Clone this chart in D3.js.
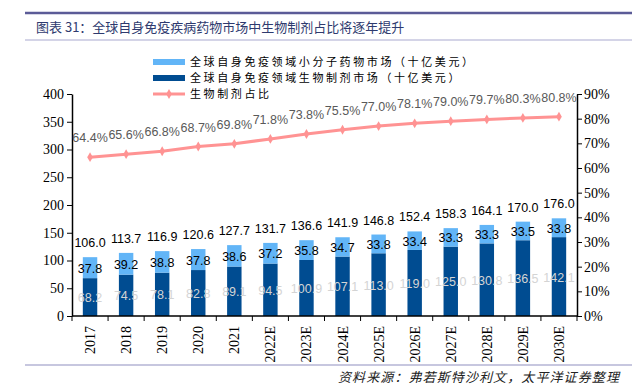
<!DOCTYPE html>
<html>
<head>
<meta charset="utf-8">
<script src="https://cdn.jsdelivr.net/npm/d3@7/dist/d3.min.js"></script>
<style>
  body { margin: 0; background: #fff; }
  svg { display: block; }
</style>
</head>
<body>
<div id="chart"></div>
<script>
// Data
const years = ['2017', '2018', '2019', '2020', '2021', '2022E', '2023E', '2024E', '2025E', '2026E', '2027E', '2028E', '2029E', '2030E'];
const biologics = [68.2, 74.5, 78.1, 82.8, 89.1, 94.5, 100.9, 107.1, 113.0, 119.0, 125.0, 130.8, 136.5, 142.1];
const smallMol = [37.8, 39.2, 38.8, 37.8, 38.6, 37.2, 35.8, 34.7, 33.8, 33.4, 33.3, 33.3, 33.5, 33.8];
const totals = [106.0, 113.7, 116.9, 120.6, 127.7, 131.7, 136.6, 141.9, 146.8, 152.4, 158.3, 164.1, 170.0, 176.0];
const share = [64.4, 65.6, 66.8, 68.7, 69.8, 71.8, 73.8, 75.5, 77.0, 78.1, 79.0, 79.7, 80.3, 80.8];
const leftTicks = [0, 50, 100, 150, 200, 250, 300, 350, 400];
const rightTicks = [0, 10, 20, 30, 40, 50, 60, 70, 80, 90];

const W = 632, H = 387;
const LIGHT = '#62b5f7', DARK = '#004c91', PINK = '#ff9393';
const serif = '"Liberation Serif", "Times New Roman", serif';
const sans = '"Liberation Sans", Arial, sans-serif';
const cjk = '"Noto Sans CJK SC", sans-serif';

const svg = d3.select('#chart').append('svg').attr('width', W).attr('height', H);

// Header lines + title
svg.append('line').attr('x1', 25).attr('x2', W).attr('y1', 13).attr('y2', 13)
  .attr('stroke', '#5b5b97').attr('stroke-width', 2.5);
svg.append('text').attr('x', 36).attr('y', 32)
  .attr('font-family', cjk).attr('font-size', 13).attr('fill', '#2e3a6e')
  .text('图表 31：全球自身免疫疾病药物市场中生物制剂占比将逐年提升');
svg.append('line').attr('x1', 25).attr('x2', W).attr('y1', 40).attr('y2', 40)
  .attr('stroke', '#a9a9cf').attr('stroke-width', 1);

// Scales
const x = d3.scaleBand().domain(years).range([72, 577]).paddingInner(0.6).paddingOuter(0.3);
const y = d3.scaleLinear().domain([0, 400]).range([316, 94]);
const yR = d3.scaleLinear().domain([0, 90]).range([316, 94]);

// Bars
const g = svg.append('g');
g.selectAll('rect.bio').data(years).join('rect')
  .attr('x', d => x(d)).attr('width', x.bandwidth())
  .attr('y', (d, i) => y(biologics[i])).attr('height', (d, i) => y(0) - y(biologics[i]))
  .attr('fill', DARK);
g.selectAll('rect.small').data(years).join('rect')
  .attr('x', d => x(d)).attr('width', x.bandwidth())
  .attr('y', (d, i) => y(totals[i])).attr('height', (d, i) => y(biologics[i]) - y(totals[i]))
  .attr('fill', LIGHT);

// Axes
const axL = svg.append('g').attr('transform', 'translate(72,0)')
  .call(d3.axisLeft(y).tickValues(leftTicks).tickSize(5).tickSizeOuter(0));
const axR = svg.append('g').attr('transform', 'translate(577,0)')
  .call(d3.axisRight(yR).tickValues(rightTicks).tickSize(5).tickSizeOuter(0).tickFormat(d => d + '%'));
const boundaries = d3.range(years.length + 1).map(i => 72 + i * (505 / years.length));
const axB = svg.append('g').attr('transform', 'translate(0,316)');
axB.append('line').attr('x1', 72).attr('x2', 577).attr('stroke', '#000').attr('stroke-width', 1.5);
axB.selectAll('line.tk').data(boundaries).join('line')
  .attr('x1', d => d).attr('x2', d => d).attr('y1', 0).attr('y2', 5).attr('stroke', '#000');
axB.selectAll('text').data(years).join('text')
  .attr('transform', d => `translate(${x(d) + x.bandwidth() / 2 + 5},10) rotate(-90)`)
  .attr('text-anchor', 'end').attr('font-family', serif).attr('font-size', 14)
  .text(d => d);

[axL, axR].forEach(a => {
  a.select('.domain').attr('stroke-width', 1.5);
  a.selectAll('text').attr('font-family', serif).attr('font-size', 14).attr('fill', '#000');
});
axL.selectAll('.tick text').attr('x', -8);
axR.selectAll('.tick text').attr('x', 7);

// Bar labels
const cx = d => x(d) + x.bandwidth() / 2;
const lbl = svg.append('g').attr('font-family', sans).attr('font-size', 12.5).attr('text-anchor', 'middle');
lbl.selectAll('text.tot').data(years).join('text')
  .attr('x', cx).attr('y', (d, i) => y(totals[i]) - 10).attr('fill', '#000')
  .text((d, i) => totals[i].toFixed(1));
lbl.selectAll('text.sm').data(years).join('text')
  .attr('x', cx).attr('y', (d, i) => (y(totals[i]) + y(biologics[i])) / 2 + 5).attr('fill', '#000')
  .text((d, i) => smallMol[i].toFixed(1));
lbl.selectAll('text.bio').data(years).join('text')
  .attr('x', cx).attr('y', (d, i) => (y(biologics[i]) + y(0)) / 2 + 5).attr('fill', '#d4d4d4')
  .text((d, i) => biologics[i].toFixed(1));

// Share line
const line = d3.line().x(d => cx(d)).y((d, i) => yR(share[i]));
svg.append('path').datum(years).attr('d', line)
  .attr('fill', 'none').attr('stroke', PINK).attr('stroke-width', 3);
svg.append('g').selectAll('path').data(years).join('path')
  .attr('transform', (d, i) => `translate(${cx(d)},${yR(share[i])})`)
  .attr('d', d3.symbol(d3.symbolDiamond, 28)).attr('fill', PINK);
svg.append('g').attr('font-family', sans).attr('font-size', 12.5).attr('text-anchor', 'middle')
  .selectAll('text').data(years).join('text')
  .attr('x', cx).attr('y', (d, i) => yR(share[i]) - 15).attr('fill', '#595959')
  .text((d, i) => share[i].toFixed(1) + '%');

// Legend
const legend = svg.append('g').attr('font-family', cjk).attr('font-size', 11).attr('letter-spacing', 2.6);
const items = [
  { label: '全球自身免疫领域小分子药物市场（十亿美元）', color: LIGHT, type: 'bar' },
  { label: '全球自身免疫领域生物制剂市场（十亿美元）', color: DARK, type: 'bar' },
  { label: '生物制剂占比', color: PINK, type: 'line' }
];
items.forEach((it, i) => {
  const ly = 62 + i * 16;
  if (it.type === 'bar') {
    legend.append('rect').attr('x', 153).attr('y', ly - 3).attr('width', 32).attr('height', 6).attr('fill', it.color);
  } else {
    legend.append('line').attr('x1', 153).attr('x2', 185).attr('y1', ly).attr('y2', ly)
      .attr('stroke', it.color).attr('stroke-width', 3);
    legend.append('path').attr('transform', `translate(169,${ly})`)
      .attr('d', d3.symbol(d3.symbolDiamond, 28)).attr('fill', it.color);
  }
  legend.append('text').attr('x', 190).attr('y', ly + 4).attr('fill', '#000').text(it.label);
});

// Footer
svg.append('line').attr('x1', 25).attr('x2', W).attr('y1', 365).attr('y2', 365)
  .attr('stroke', '#b4b4d4').attr('stroke-width', 1.5);
svg.append('text').attr('x', 620).attr('y', 382).attr('text-anchor', 'end')
  .attr('font-family', cjk).attr('font-size', 13).attr('letter-spacing', 1.1)
  .attr('font-style', 'italic').attr('fill', '#222')
  .text('资料来源：弗若斯特沙利文，太平洋证券整理');
</script>
</body>
</html>
